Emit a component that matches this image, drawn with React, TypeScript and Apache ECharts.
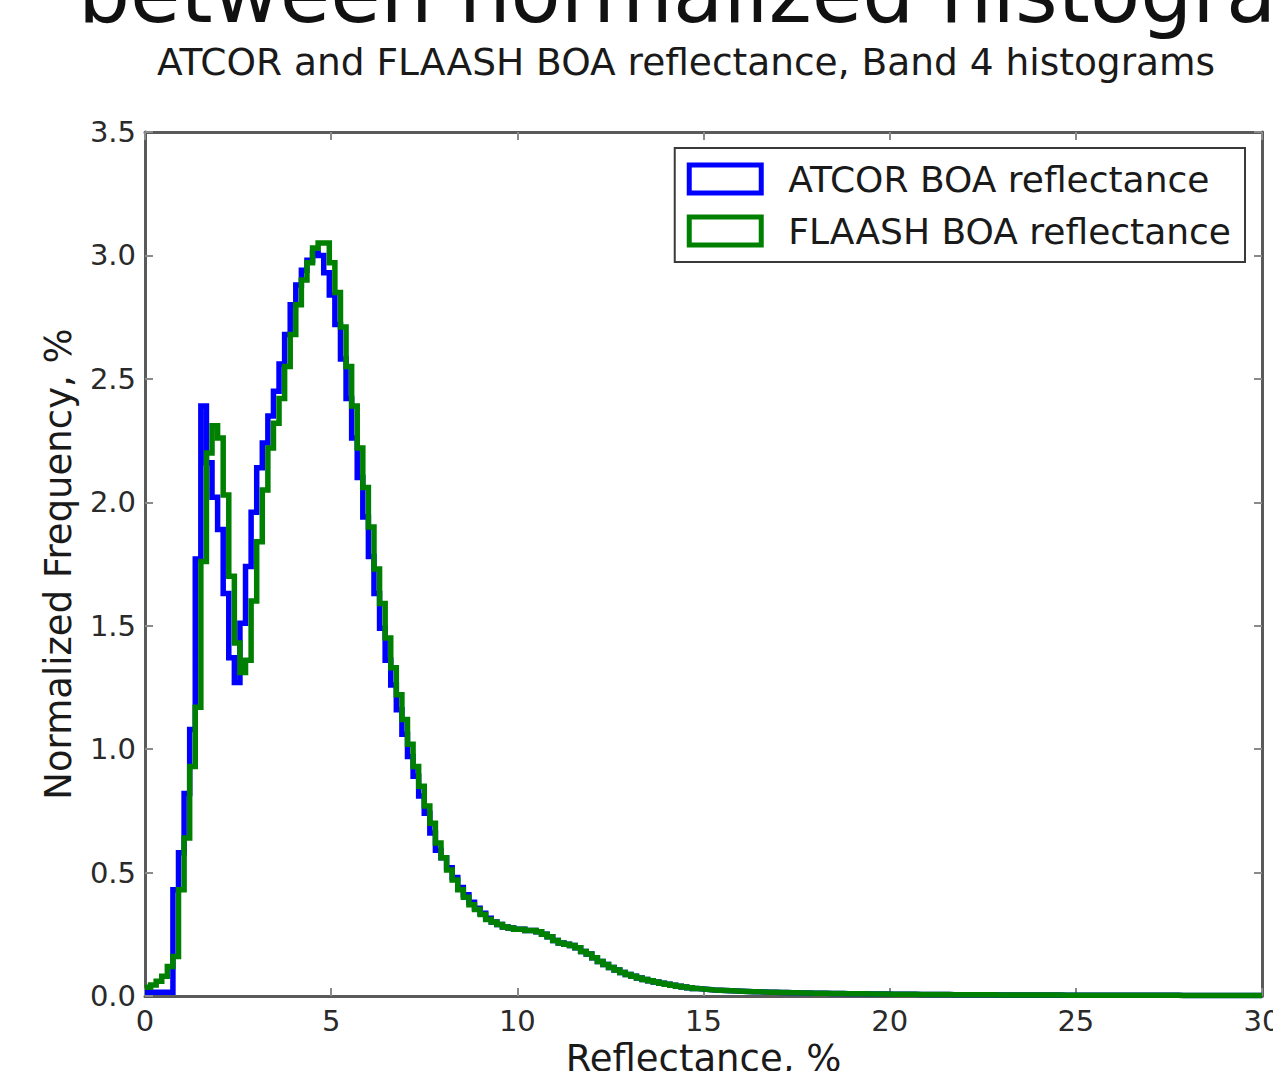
import React, { useEffect, useRef } from "react";
import * as echarts from "echarts";

const binWidth = 0.15;
const xMax = 30;
const xTickInterval = 5;
const yMax = 3.5;
const yTickInterval = 0.5;

const seriesNames = ["ATCOR BOA reflectance", "FLAASH BOA reflectance"];

// bins 0..99 (0 – 15 %)
const atcorHead = [
  0.015, 0.015, 0.015, 0.015, 0.015, 0.43, 0.58, 0.82, 1.08, 1.77,
  2.39, 2.16, 2.02, 1.89, 1.63, 1.37, 1.27, 1.51, 1.74, 1.96,
  2.14, 2.24, 2.35, 2.45, 2.56, 2.68, 2.8, 2.88, 2.94, 2.98,
  3.01, 3.0, 2.93, 2.84, 2.72, 2.58, 2.42, 2.26, 2.1, 1.94,
  1.78, 1.63, 1.49, 1.36, 1.26, 1.16, 1.06, 0.97, 0.89, 0.81,
  0.74, 0.66, 0.59, 0.56, 0.52, 0.48, 0.44, 0.41, 0.38, 0.355,
  0.335, 0.315, 0.3, 0.29, 0.28, 0.275, 0.27, 0.27, 0.265, 0.265,
  0.26, 0.25, 0.24, 0.225, 0.215, 0.21, 0.205, 0.195, 0.18, 0.17,
  0.155, 0.14, 0.128, 0.115, 0.105, 0.095, 0.087, 0.08, 0.073, 0.067,
  0.062, 0.057, 0.052, 0.048, 0.044, 0.04, 0.036, 0.033, 0.03, 0.028,
];

const flaashHead = [
  0.035, 0.045, 0.06, 0.08, 0.12, 0.16, 0.43, 0.64, 0.93, 1.17,
  1.76, 2.2, 2.31, 2.26, 2.03, 1.7, 1.43, 1.31, 1.36, 1.6,
  1.84, 2.05, 2.22, 2.32, 2.42, 2.55, 2.68, 2.8, 2.9, 2.97,
  3.03, 3.05, 3.05, 2.97, 2.85, 2.71, 2.55, 2.39, 2.22, 2.06,
  1.9, 1.73, 1.59, 1.45, 1.33, 1.22, 1.12, 1.02, 0.93, 0.85,
  0.77, 0.7, 0.62, 0.56, 0.51, 0.47, 0.43, 0.4, 0.37, 0.35,
  0.33, 0.31, 0.3, 0.29, 0.28, 0.275, 0.27, 0.27, 0.265, 0.265,
  0.26, 0.25, 0.24, 0.225, 0.215, 0.21, 0.205, 0.195, 0.18, 0.17,
  0.155, 0.14, 0.128, 0.115, 0.105, 0.095, 0.087, 0.08, 0.073, 0.067,
  0.062, 0.057, 0.052, 0.048, 0.044, 0.04, 0.036, 0.033, 0.03, 0.028,
];

// bins 100..199 (15 – 30 %), practically identical for both
const tailValues = [
  0.026, 0.024, 0.023, 0.022, 0.021, 0.02, 0.019, 0.018, 0.017, 0.017,
  0.016, 0.015, 0.015, 0.014, 0.014, 0.013, 0.013, 0.012, 0.012, 0.011,
  0.011, 0.011, 0.01, 0.01, 0.01, 0.009, 0.009, 0.009, 0.009, 0.008,
  0.008, 0.008, 0.008, 0.007, 0.007, 0.007, 0.007, 0.007, 0.006, 0.006,
  0.006, 0.006, 0.006, 0.006, 0.005, 0.005, 0.005, 0.005, 0.005, 0.005,
  0.005, 0.005, 0.004, 0.004, 0.004, 0.004, 0.004, 0.004, 0.004, 0.004,
  0.004, 0.004, 0.004, 0.004, 0.003, 0.003, 0.003, 0.003, 0.003, 0.003,
  0.003, 0.003, 0.003, 0.003, 0.003, 0.003, 0.003, 0.003, 0.003, 0.003,
  0.003, 0.003, 0.003, 0.003, 0.003, 0.002, 0.002, 0.002, 0.002, 0.002,
  0.002, 0.002, 0.002, 0.002, 0.002, 0.002, 0.002, 0.002, 0.002, 0.002,
];

const atcor = atcorHead.concat(tailValues);
const flaash = flaashHead.concat(tailValues);

function toSteps(vals: number[]): number[][] {
  const pts = vals.map((v, i) => [Math.round(i * binWidth * 1000) / 1000, v]);
  pts.push([xMax, vals[vals.length - 1]]);
  return pts;
}

const FONT = "'DejaVu Sans', sans-serif";
const frameColor = "#5a5a5a";

export default function App() {
  const ref = useRef<HTMLDivElement>(null);

  useEffect(() => {
    if (!ref.current) return;
    const chart = echarts.init(ref.current, undefined, { renderer: "svg" });

    const tickStyle = { inside: true, length: 8, lineStyle: { color: "#8a8a8a", width: 2 } };
    const lineStyleAxis = { show: true, onZero: false, lineStyle: { color: frameColor, width: 3 } };

    chart.setOption({
      animation: false,
      backgroundColor: "#ffffff",
      textStyle: { fontFamily: FONT },
      grid: {
        left: 145,
        right: 11,
        top: 132,
        bottom: 75,
        containLabel: false,
        outerBoundsMode: "none",
      },
      graphic: [
        {
          type: "text",
          left: 78,
          top: -48,
          style: {
            text: "between normalized histogra",
            font: "82px 'DejaVu Sans', sans-serif",
            fill: "#111111",
          },
        },
        {
          type: "text",
          x: 686,
          y: 62,
          style: {
            text: "ATCOR and FLAASH BOA reflectance, Band 4 histograms",
            font: "37.5px 'DejaVu Sans', sans-serif",
            fill: "#1a1a1a",
            textAlign: "center",
            textVerticalAlign: "middle",
          },
        },
      ],
      legend: {
        orient: "vertical",
        right: 28,
        top: 148,
        borderColor: "#3a3a3a",
        borderWidth: 2,
        backgroundColor: "#ffffff",
        padding: [13, 14, 13, 12],
        itemGap: 16,
        itemWidth: 72,
        itemHeight: 28,
        icon: "rect",
        textStyle: {
          fontFamily: FONT,
          fontSize: 36,
          color: "#1a1a1a",
          lineHeight: 32,
          padding: [0, 0, 0, 22],
        },
        data: [
          { name: seriesNames[0], itemStyle: { color: "#ffffff", borderColor: "#0000ff", borderWidth: 5 } },
          { name: seriesNames[1], itemStyle: { color: "#ffffff", borderColor: "#008000", borderWidth: 5 } },
        ],
      },
      xAxis: [
        {
          type: "value",
          min: 0,
          max: xMax,
          interval: xTickInterval,
          name: "Reflectance, %",
          nameLocation: "middle",
          nameGap: 40,
          nameTextStyle: { fontFamily: FONT, fontSize: 37, color: "#1a1a1a" },
          axisLine: lineStyleAxis,
          axisTick: tickStyle,
          axisLabel: { fontFamily: FONT, fontSize: 29, color: "#2a2a2a", margin: 10 },
          splitLine: { show: false },
        },
        {
          type: "value",
          position: "top",
          min: 0,
          max: xMax,
          interval: xTickInterval,
          axisLine: lineStyleAxis,
          axisTick: tickStyle,
          axisLabel: { show: false },
          splitLine: { show: false },
        },
      ],
      yAxis: [
        {
          type: "value",
          min: 0,
          max: yMax,
          interval: yTickInterval,
          name: "Normalized Frequency, %",
          nameLocation: "middle",
          nameGap: 68,
          nameTextStyle: { fontFamily: FONT, fontSize: 37, color: "#1a1a1a" },
          axisLine: lineStyleAxis,
          axisTick: tickStyle,
          axisLabel: {
            fontFamily: FONT,
            fontSize: 29,
            color: "#2a2a2a",
            margin: 9,
            formatter: (v: number) => v.toFixed(1),
          },
          splitLine: { show: false },
        },
        {
          type: "value",
          position: "right",
          min: 0,
          max: yMax,
          interval: yTickInterval,
          axisLine: lineStyleAxis,
          axisTick: tickStyle,
          axisLabel: { show: false },
          splitLine: { show: false },
        },
      ],
      series: [
        {
          name: seriesNames[0],
          type: "line",
          step: "end",
          data: toSteps(atcor),
          symbol: "none",
          lineStyle: { color: "#0000ff", width: 5.5, join: "miter" },
          itemStyle: { color: "#0000ff" },
          z: 3,
        },
        {
          name: seriesNames[1],
          type: "line",
          step: "end",
          data: toSteps(flaash),
          symbol: "none",
          lineStyle: { color: "#008000", width: 5.5, join: "miter" },
          itemStyle: { color: "#008000" },
          z: 4,
        },
      ],
    });

    return () => chart.dispose();
  }, []);

  return (
    <div
      ref={ref}
      style={{ position: "absolute", left: 0, top: 0, width: 1273, height: 1071 }}
    />
  );
}
